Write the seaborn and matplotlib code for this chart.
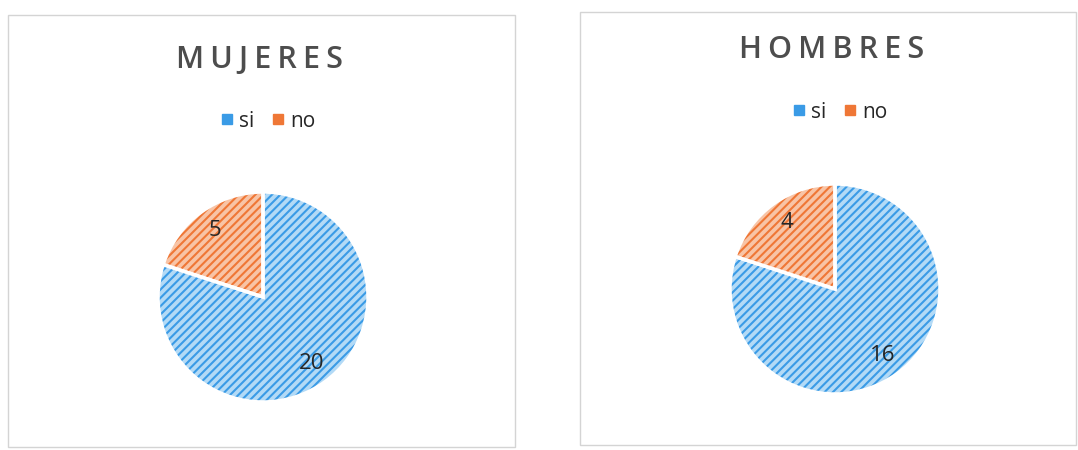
import matplotlib
matplotlib.use("Agg")
import matplotlib.pyplot as plt
import seaborn as sns
from matplotlib.lines import Line2D
from matplotlib.patches import Rectangle

# ---- data ----
titles = ["MUJERES", "HOMBRES"]
categories = ["si", "no"]
mujeres_values = [20, 5]
hombres_values = [16, 4]

sns.set_theme(style="white")
plt.rcParams['font.family'] = ['Open Sans', 'DejaVu Sans']
plt.rcParams['hatch.linewidth'] = 1.5

face_colors = ["#b3daf6", "#f8c4a6"]
hatch_colors = sns.color_palette(["#3a9be6", "#ef7736"])

W, H = 1078, 450
fig = plt.figure(figsize=(W / 100, H / 100), dpi=100)
fig.patch.set_facecolor("white")

panels = [
    dict(values=mujeres_values, title=titles[0], box=(8, 15, 515, 447),
         center=(263, 297), r=105, title_xy=(260, 60), leg_xy=(268, 121)),
    dict(values=hombres_values, title=titles[1], box=(580, 12, 1076, 445),
         center=(835, 289), r=105, title_xy=(832, 50), leg_xy=(840, 112)),
]

for p in panels:
    x0, y0, x1, y1 = p["box"]
    fig.patches.append(Rectangle((x0 / W, 1 - y1 / H), (x1 - x0) / W, (y1 - y0) / H,
                                 transform=fig.transFigure, fill=False,
                                 edgecolor="#d4d4d4", linewidth=1.0))
    cx, cy = p["center"]
    r = p["r"]
    ax = fig.add_axes([(cx - r) / W, 1 - (cy + r) / H, 2 * r / W, 2 * r / H])
    vals = p["values"]
    total = sum(vals)
    wedges, _, autotexts = ax.pie(
        vals, startangle=90, counterclock=False, colors=face_colors,
        autopct=lambda pct, t=total: f"{round(pct * t / 100)}",
        pctdistance=0.78,
        wedgeprops=dict(linewidth=0, hatch="////"),
        textprops=dict(fontsize=16, color="#262626"))
    for w, hc in zip(wedges, hatch_colors):
        w.set_edgecolor(hc)
    ax.pie(vals, startangle=90, counterclock=False,
           wedgeprops=dict(fill=False, edgecolor="white", linewidth=2.5))
    ax.set_xlim(-1, 1)
    ax.set_ylim(-1, 1)
    ax.axis("off")

    tx, ty = p["title_xy"]
    fig.text(tx / W, 1 - ty / H, "\u2009".join(p["title"]), ha="center", va="center",
             fontsize=22, color="#4d4d4d", fontweight="semibold")

    handles = [Line2D([], [], linestyle="none", marker="s", markersize=6.5,
                      markerfacecolor=c, markeredgecolor=c) for c in hatch_colors]
    lx, ly = p["leg_xy"]
    fig.legend(handles, categories, loc="center", bbox_to_anchor=(lx / W, 1 - ly / H),
               ncol=2, frameon=False, fontsize=15, handlelength=0.6,
               handletextpad=0.3, columnspacing=0.8, labelcolor="#262626")

fig.savefig("out.png", dpi=100, facecolor="white")
